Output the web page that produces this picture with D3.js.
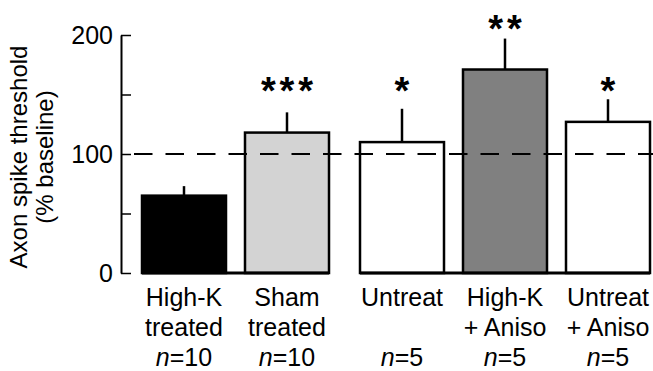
<!DOCTYPE html>
<html>
<head>
<meta charset="utf-8">
<script src="https://cdn.jsdelivr.net/npm/d3@7"></script>
<style>
  body { margin: 0; background: #fff; }
  svg { display: block; font-family: "Liberation Sans", Arial, Helvetica, sans-serif; }
</style>
</head>
<body>
<svg id="chart" width="653" height="371"></svg>
<script>
// Bar data (% of baseline)
const categories = ["hk", "sham", "untreat", "hkAniso", "untreatAniso"];
const labelTop = ["High-K", "Sham", "Untreat", "High-K", "Untreat"];
const labelBottom = ["treated", "treated", "", "+ Aniso", "+ Aniso"];
const nValues = [10, 10, 5, 5, 5];
const groups = [0, 0, 1, 1, 1];
const means = [65, 118, 110, 171, 127];
const errors = [8, 17, 28, 26, 19];
const stars = ["", "***", "*", "**", "*"];
const starLevel = [0, 160, 160, 212, 160];
const fills = ["#000000", "#d3d3d3", "#ffffff", "#808080", "#ffffff"];
const yTicks = [0, 50, 100, 150, 200];
const baseline = 100;

const svg = d3.select("#chart");

// Layout
const axisX = 121;
const y = d3.scaleLinear().domain([0, 200]).range([273, 35]);
const groupGap = 12;
const x = d3.scaleBand()
    .domain(categories)
    .range([142, 142 + 5 * 103 - 19])
    .paddingInner(19 / 103);
const left = (i) => x(categories[i]) + groups[i] * groupGap;
const center = (i) => left(i) + x.bandwidth() / 2;

/* Y axis: ticks pointing inwards, labels only on the hundreds */
const axis = d3.axisLeft(y)
    .tickValues(yTicks)
    .tickSizeInner(-10)
    .tickSizeOuter(0)
    .tickPadding(8)
    .tickFormat(d => d % 100 === 0 ? d : "");

const gAxis = svg.append("g")
    .attr("transform", `translate(${axisX},0)`)
    .call(axis);
gAxis.select(".domain").attr("stroke-width", 2);
gAxis.selectAll(".tick line").attr("stroke-width", 1.5);
gAxis.selectAll(".tick text")
    .attr("font-size", 25)
    .attr("fill", "#000")
    .attr("font-family", "Liberation Sans, Arial, sans-serif");

// Axis title (two lines, rotated)
const title = svg.append("g").attr("transform", "rotate(-90)");
title.append("text")
    .attr("x", -157).attr("y", 27)
    .attr("text-anchor", "middle")
    .attr("font-size", 24)
    .text("Axon spike threshold");
title.append("text")
    .attr("x", -157).attr("y", 53)
    .attr("text-anchor", "middle")
    .attr("font-size", 24)
    .text("(% baseline)");

const idx = d3.range(categories.length);

// Error bars (upper half only)
svg.append("g").selectAll("line")
    .data(idx)
    .join("line")
    .attr("x1", center).attr("x2", center)
    .attr("y1", i => y(means[i]))
    .attr("y2", i => y(means[i] + errors[i]))
    .attr("stroke", "#000")
    .attr("stroke-width", 2.5);

// Bars
svg.append("g").selectAll("rect")
    .data(idx)
    .join("rect")
    .attr("x", left)
    .attr("width", x.bandwidth())
    .attr("y", i => y(means[i]))
    .attr("height", i => y(0) - y(means[i]))
    .attr("fill", i => fills[i])
    .attr("stroke", "#000")
    .attr("stroke-width", 2.5);

// Baseline under each group
const groupIds = [0, 1];
svg.append("g").selectAll("line")
    .data(groupIds)
    .join("line")
    .attr("x1", g => left(groups.indexOf(g)))
    .attr("x2", g => left(groups.lastIndexOf(g)) + x.bandwidth())
    .attr("y1", y(0)).attr("y2", y(0))
    .attr("stroke", "#000")
    .attr("stroke-width", 3);

// Dashed 100% reference line, drawn over the bars
svg.append("line")
    .attr("x1", axisX + 13).attr("x2", 653)
    .attr("y1", y(baseline)).attr("y2", y(baseline))
    .attr("stroke", "#000")
    .attr("stroke-width", 2)
    .attr("stroke-dasharray", "18.5,13");

// Significance stars, one text per asterisk
const starPitch = 18.7;
idx.forEach(i => {
    const k = stars[i].length;
    for (let j = 0; j < k; j++) {
        svg.append("text")
            .attr("x", center(i) + (j - (k - 1) / 2) * starPitch)
            .attr("y", y(starLevel[i]) + 21)
            .attr("text-anchor", "middle")
            .attr("font-size", 38)
            .attr("font-weight", "bold")
            .text("*");
    }
});

// Category labels
const gLab = svg.append("g")
    .attr("font-size", 25)
    .attr("text-anchor", "middle");
idx.forEach(i => {
    gLab.append("text").attr("x", center(i)).attr("y", 306).text(labelTop[i]);
    if (labelBottom[i]) gLab.append("text").attr("x", center(i)).attr("y", 336).text(labelBottom[i]);
    const t = gLab.append("text").attr("x", center(i)).attr("y", 366);
    t.append("tspan").attr("font-style", "italic").text("n");
    t.append("tspan").text("=" + nValues[i]);
});
</script>
</body>
</html>
